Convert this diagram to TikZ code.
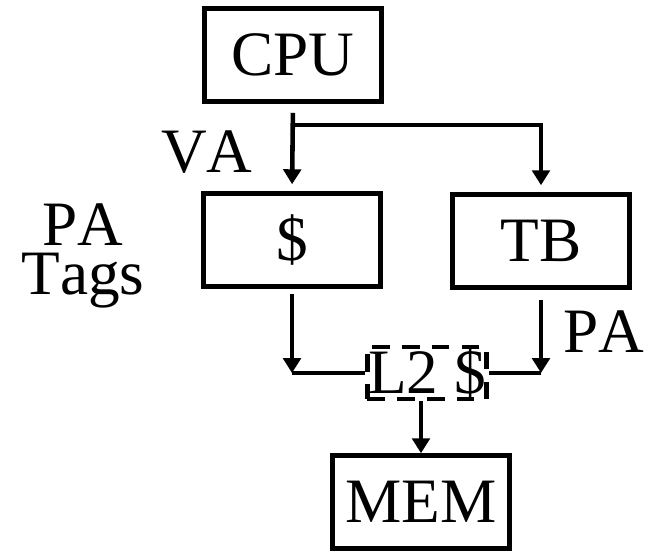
\documentclass[tikz,border=0pt]{standalone}
\usepackage{fontspec}
\setmainfont{Liberation Serif}[Kerning=Off]
\usetikzlibrary{arrows.meta, positioning}

\begin{document}
\begin{tikzpicture}[x=0.02cm, y=-0.02cm,
            unit/.style={draw, line width=2.6pt, minimum width=3.54cm, minimum height=1.86cm, align=center, font=\fontsize{36}{30}\selectfont},
            l2box/.style={draw, line width=2.6pt, dash pattern=on 10pt off 7pt, inner sep=0.5pt, font=\fontsize{36}{30}\selectfont},
            lbl/.style={inner sep=0pt, align=center, font=\fontsize{36}{28}\selectfont},
            wire/.style={line width=2.6pt},
            arr/.style={wire, -{Triangle[length=8.5pt, width=10pt]}}
        ]
            \useasboundingbox (0,0) rectangle (648,554);

            \node[unit] (cpu) at (293,55) {CPU};
            \node[unit] (cache) at (292,240) {\$};
            \node[unit] (tb) at (541,241) {TB};
            \node[l2box] (l2) at (427,373) {L2 \$};
            \node[unit] (mem) at (421,502) {MEM};

            \node[lbl] (va) at (207,152) {VA};
            \node[lbl, anchor=north] (tags) at (83,203) {PA\\Tags};
            \node[lbl] (pa) at (604,332) {PA};

            \coordinate (fork) at (292,125);
            \coordinate (lcorner) at (cache.south |- l2.west);
            \coordinate (rcorner) at (tb.south |- l2.east);

            \draw[arr, shorten <=0.18cm, shorten >=0.14cm] (cpu.south) -- (cache.north);
            \draw[arr, shorten >=0.14cm] (fork) -| (tb.north);
            \draw[arr, shorten <=0.1cm] (cache.south) -- (lcorner);
            \draw[wire] (lcorner) -- (l2.west);
            \draw[arr, shorten <=0.2cm] (tb.south) -- (rcorner);
            \draw[wire] (rcorner) -- (l2.east);
            \draw[arr] (l2.south -| mem.north) -- (mem.north);
        \end{tikzpicture}
\end{document}
